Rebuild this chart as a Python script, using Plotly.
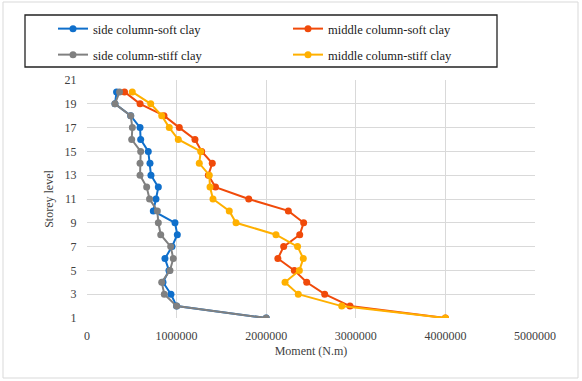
import plotly.graph_objects as go

storeys = list(range(1, 21))

side_soft = [2000000, 1000000, 937000, 848000, 915000, 870000, 949000, 1008000, 982000, 740000,
             770000, 796000, 714000, 703000, 684000, 599000, 592000, 488000, 312000, 330000]
middle_soft = [4000000, 2935000, 2653000, 2452000, 2314000, 2130000, 2195000, 2374000, 2418000, 2247000,
               1805000, 1434000, 1354000, 1398000, 1280000, 1205000, 1030000, 859000, 592000, 419000]
side_stiff = [2000000, 1000000, 863000, 834000, 926000, 963000, 934000, 823000, 796000, 785000,
              698000, 666000, 592000, 592000, 599000, 499000, 506000, 488000, 312000, 363000]
middle_stiff = [4000000, 2843000, 2358000, 2210000, 2370000, 2414000, 2350000, 2109000, 1663000, 1588000,
                1406000, 1373000, 1365000, 1253000, 1269000, 1019000, 918000, 834000, 711000, 505000]

names = ["side column-soft clay", "middle column-soft clay",
         "side column-stiff clay", "middle column-stiff clay"]
series = [side_soft, middle_soft, side_stiff, middle_stiff]
colors = ["#0F6FCB", "#F04A0A", "#808080", "#FFB000"]
legends = ["legend", "legend2", "legend3", "legend4"]

FONT = "Liberation Serif, Times New Roman, serif"
TXT = "#404040"

fig = go.Figure()
for name, vals, col, lg in zip(names, series, colors, legends):
    fig.add_trace(go.Scatter(
        x=vals, y=storeys, mode="lines+markers", name=name,
        line=dict(color=col, width=2), marker=dict(color=col, size=7),
        legend=lg, showlegend=True,
    ))

# chart area left=87, right=535, top=80, bottom=318 (px)
def px_x(p):
    return (p - 87) / 448.0

def px_y(p):
    return (318 - p) / 238.0

def leg(xp, yp):
    return dict(
        orientation="h", x=px_x(xp), xanchor="left", y=px_y(yp), yanchor="middle",
        bgcolor="rgba(0,0,0,0)", itemwidth=30, visible=True,
        font=dict(family=FONT, size=12.5, color="#1a1a1a"),
    )

fig.update_layout(
    width=582, height=381,
    showlegend=True,
    margin=dict(l=87, r=47, t=80, b=63),
    paper_bgcolor="white", plot_bgcolor="white",
    font=dict(family=FONT, size=12, color=TXT),
    xaxis=dict(
        range=[0, 5000000], dtick=1000000, tickformat="d",
        showgrid=True, gridcolor="#d9d9d9", gridwidth=1,
        zeroline=False, showline=False,
        ticks="outside", ticklen=7, tickcolor="rgba(0,0,0,0)",
        tickfont=dict(family=FONT, size=12, color=TXT),
        title=dict(text="Moment (N.m)", font=dict(family=FONT, size=12, color=TXT), standoff=4),
    ),
    yaxis=dict(
        range=[1, 21], dtick=2, tick0=1,
        showgrid=True, gridcolor="#d9d9d9", gridwidth=1,
        zeroline=False, showline=False,
        ticks="outside", ticklen=7, tickcolor="rgba(0,0,0,0)",
        tickfont=dict(family=FONT, size=12, color=TXT),
        title=dict(text="Storey level", font=dict(family=FONT, size=12, color=TXT), standoff=8),
    ),
    legend=leg(53, 29),
    legend2=leg(288, 29),
    legend3=leg(53, 55),
    legend4=leg(288, 55),
    shapes=[
        dict(type="rect", xref="paper", yref="paper",
             x0=px_x(3), x1=px_x(578), y0=px_y(378), y1=px_y(2),
             line=dict(color="#d9d9d9", width=1), layer="below"),
        dict(type="rect", xref="paper", yref="paper",
             x0=px_x(25), x1=px_x(497), y0=px_y(67), y1=px_y(15),
             line=dict(color="#222222", width=1.3), layer="below"),
    ],
)

fig.write_html("out.html")
